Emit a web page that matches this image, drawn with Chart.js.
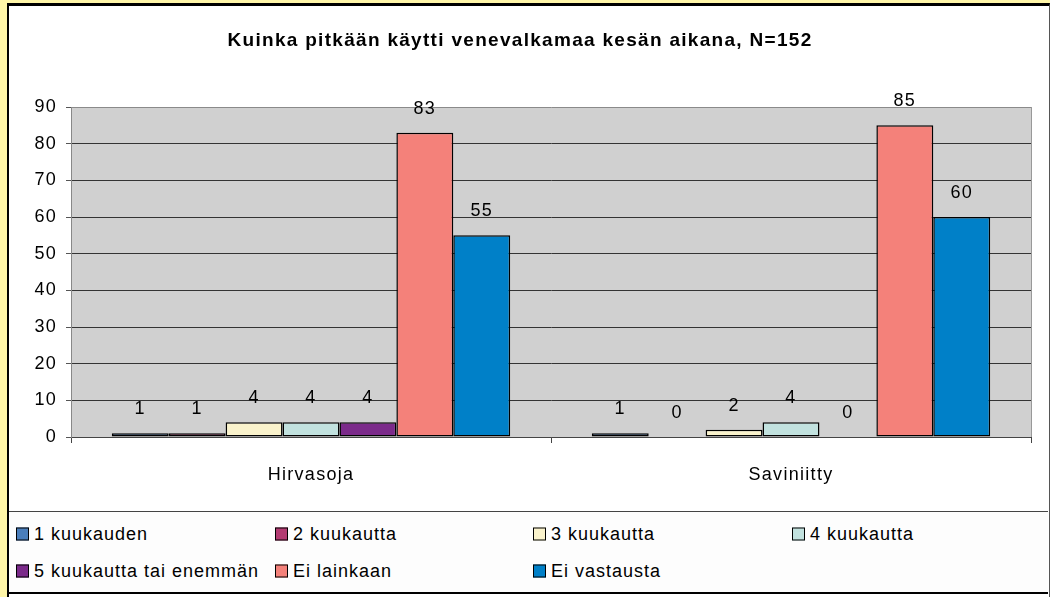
<!DOCTYPE html>
<html>
<head>
<meta charset="utf-8">
<script src="https://cdn.jsdelivr.net/npm/chart.js@4"></script>
<style>
  body { margin: 0; background: #FFF6A8; width: 1050px; height: 597px; overflow: hidden; font-family: "Liberation Sans", Arial, sans-serif; }
  #frame { position: absolute; left: 7px; top: 3px; width: 1040px; height: 594px; background: #fff;
           border-left: 2px solid #000; border-top: 3px solid #000; border-right: 1px solid #555; }
  #wrap { position: absolute; left: 9px; top: 6px; width: 1039px; height: 505px; }
  #legend { position: absolute; left: 9px; top: 511px; width: 1039px; height: 80px; background: #fdfdfd;
            border-top: 1px solid #444; border-bottom: 2px solid #000; }
  .item { position: absolute; display: flex; align-items: center; font-size: 18px; letter-spacing: 1px; color: #000; white-space: nowrap; transform: translateY(-50%); }
  .box { width: 11px; height: 11px; border: 1.5px solid #000; margin-right: 5px; }
</style>
</head>
<body>
<div id="frame"></div>
<div id="wrap"><canvas id="chart"></canvas></div>
<div id="legend"></div>
<script>
const title = 'Kuinka pitkään käytti venevalkamaa kesän aikana, N=152';
const places = ['Hirvasoja', 'Saviniitty'];
const seriesNames = ['1 kuukauden', '2 kuukautta', '3 kuukautta', '4 kuukautta',
                     '5 kuukautta tai enemmän', 'Ei lainkaan', 'Ei vastausta'];
const kk1 = [1, 1];
const kk2 = [1, 0];
const kk3 = [4, 2];
const kk4 = [4, 4];
const kk5 = [4, 0];
const eiLainkaan = [83, 85];
const eiVastausta = [55, 60];
const yTicks = [0, 10, 20, 30, 40, 50, 60, 70, 80, 90];

const colors = ['#4A7EBB', '#B33B72', '#FAF3CC', '#C2E2DF', '#7B2A8A', '#F4817A', '#0080C8'];
const values = [kk1, kk2, kk3, kk4, kk5, eiLainkaan, eiVastausta];

const FONT = '"Liberation Sans", Arial, sans-serif';

// grey plot area + the wider letter spacing of the original
const plotBg = {
  id: 'plotBg',
  beforeDraw(chart) {
    const { ctx, chartArea: a } = chart;
    ctx.letterSpacing = '1.3px';
    ctx.save();
    ctx.fillStyle = '#D0D0D0';
    ctx.fillRect(a.left, a.top, a.right - a.left, a.bottom - a.top);
    ctx.strokeStyle = '#999';
    ctx.lineWidth = 1;
    ctx.beginPath();
    ctx.moveTo(a.right + 0.5, a.top);
    ctx.lineTo(a.right + 0.5, a.bottom);
    ctx.stroke();
    ctx.restore();
  }
};

const valueLabels = {
  id: 'valueLabels',
  afterDatasetsDraw(chart) {
    const ctx = chart.ctx;
    ctx.save();
    ctx.font = '18px ' + FONT;
    ctx.fillStyle = '#000';
    ctx.textAlign = 'center';
    ctx.textBaseline = 'middle';
    chart.data.datasets.forEach((ds, i) => {
      chart.getDatasetMeta(i).data.forEach((bar, j) => {
        ctx.fillText(String(ds.data[j]), bar.x, bar.y - 24);
      });
    });
    ctx.restore();
  }
};

const ctx = document.getElementById('chart').getContext('2d');
new Chart(ctx, {
  type: 'bar',
  data: {
    labels: places,
    datasets: seriesNames.map((name, i) => ({
      label: name,
      data: values[i],
      backgroundColor: colors[i],
      borderColor: '#000',
      borderWidth: c => (c.raw === 0 ? 0 : 1.5),
      borderSkipped: false,
      barPercentage: 1,
      categoryPercentage: 0.83
    }))
  },
  options: {
    responsive: true,
    maintainAspectRatio: false,
    animation: false,
    layout: { padding: { top: 0, right: 17, bottom: 0, left: 0 } },
    plugins: {
      legend: { display: false },
      tooltip: { enabled: false },
      title: {
        display: true,
        text: title,
        color: '#000',
        font: { family: FONT, size: 19, weight: 'bold' },
        padding: { top: 23, bottom: 55.2 }
      }
    },
    scales: {
      x: {
        afterFit: s => { s.height = 74; },
        grid: { offset: true, drawOnChartArea: false, drawTicks: true, tickLength: 6, color: '#444' },
        border: { color: '#444', width: 1 },
        ticks: { color: '#000', font: { family: FONT, size: 18 }, padding: 21 }
      },
      y: {
        min: 0,
        max: 90,
        afterFit: s => { s.width = 62; },
        afterBuildTicks: s => { s.ticks = yTicks.map(v => ({ value: v })); },
        grid: {
          color: c => (c.tick && c.tick.value === 90 ? '#8a8a8a' : '#333'),
          tickColor: '#555',
          tickLength: 5
        },
        border: { color: '#888', width: 1 },
        ticks: { color: '#000', font: { family: FONT, size: 18 }, padding: 9 }
      }
    }
  },
  plugins: [plotBg, valueLabels]
});

// legend, 4 columns x 2 rows
const legend = document.getElementById('legend');
const colX = [7, 266, 524, 783];
const rowY = [22, 59];
seriesNames.forEach((name, i) => {
  const item = document.createElement('div');
  item.className = 'item';
  item.style.left = colX[i % 4] + 'px';
  item.style.top = rowY[Math.floor(i / 4)] + 'px';
  const box = document.createElement('span');
  box.className = 'box';
  box.style.background = colors[i];
  item.appendChild(box);
  item.appendChild(document.createTextNode(name));
  legend.appendChild(item);
});
</script>
</body>
</html>
